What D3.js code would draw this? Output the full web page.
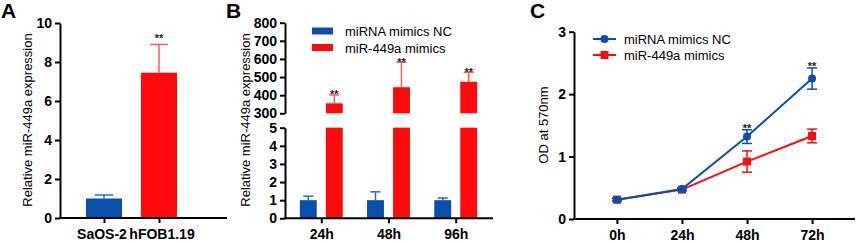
<!DOCTYPE html>
<html>
<head>
<meta charset="utf-8">
<script src="https://cdn.jsdelivr.net/npm/d3@7"></script>
<style>
  body { margin: 0; background: #fff; }
  text { font-family: "Liberation Sans", Arial, sans-serif; }
</style>
</head>
<body>
<div id="chart"></div>
<script>
// data
var series = ['miRNA mimics NC', 'miR-449a mimics'];
var colors = ['#0b4fae', '#ff0a0a'];
var errColors = ['#2f68c4', '#ff5a5a'];

// panel A
var cellsA = ['SaOS-2', 'hFOB1.19'];
var valuesA = [1.0, 7.45];
var errA = [0.18, 1.45];

// panel B
var timesB = ['24h', '48h', '96h'];
var ncB = [1.0, 1.0, 1.0];
var ncErrB = [0.22, 0.46, 0.12];
var mimB = [355, 444, 474];
var mimErrB = [46, 138, 52];

// panel C
var timesC = ['0h', '24h', '48h', '72h'];
var ncC = [0.31, 0.48, 1.32, 2.25];
var ncErrC = [0.02, 0.02, 0.11, 0.17];
var mimC = [0.31, 0.47, 0.92, 1.33];
var mimErrC = [0.02, 0.02, 0.17, 0.11];

var svg = d3.select('#chart')
  .append('svg')
    .attr('width', 858)
    .attr('height', 243);

function styleAxis(g) {
  g.selectAll('path, line').attr('stroke', '#000').attr('stroke-width', 2);
  g.selectAll('text')
    .attr('font-size', '14px')
    .attr('font-weight', 'bold')
    .attr('fill', '#000');
}

function panelLetter(x, t) {
  svg.append('text')
    .attr('x', x).attr('y', 18)
    .attr('font-size', '21px')
    .attr('font-weight', 'bold')
    .text(t);
}

function yTitle(x, y, t) {
  svg.append('text')
    .attr('transform', 'translate(' + x + ',' + y + ')rotate(-90)')
    .attr('text-anchor', 'middle')
    .attr('font-size', '13px')
    .text(t);
}

// asterisks sit just above the top of the error bar
function stars(x, yTop, gap) {
  svg.append('text')
    .attr('x', x).attr('y', yTop + 3.5 - gap)
    .attr('text-anchor', 'middle')
    .attr('font-size', '11px')
    .attr('font-weight', 'bold')
    .attr('fill', '#222')
    .text('**');
}

function errBar(x, yTop, yBot, half, color) {
  svg.append('line')
    .attr('x1', x).attr('x2', x).attr('y1', yTop).attr('y2', yBot)
    .attr('stroke', color).attr('stroke-width', 1.5);
  svg.append('line')
    .attr('x1', x - half).attr('x2', x + half).attr('y1', yTop).attr('y2', yTop)
    .attr('stroke', color).attr('stroke-width', 1.5);
}

// ---------- Panel A ----------
var xA = d3.scalePoint().domain(cellsA).range([104, 159]);
var yA = d3.scaleLinear().domain([0, 10]).range([218, 23]);
var bwA = 36;

cellsA.forEach(function(c, i) {
  errBar(xA(c), yA(valuesA[i] + errA[i]), yA(valuesA[i]), 9, errColors[i]);
});

svg.selectAll('.barA')
  .data(cellsA)
  .enter()
  .append('rect')
    .attr('x', function(d) { return xA(d) - bwA / 2; })
    .attr('y', function(d, i) { return yA(valuesA[i]); })
    .attr('width', bwA)
    .attr('height', function(d, i) { return yA(0) - yA(valuesA[i]); })
    .attr('fill', function(d, i) { return colors[i]; });

svg.append('g')
  .attr('transform', 'translate(60,0)')
  .call(d3.axisLeft(yA).ticks(5).tickSize(5).tickPadding(3).tickSizeOuter(0))
  .call(styleAxis);

var gxA = svg.append('g')
  .attr('transform', 'translate(0,' + yA(0) + ')')
  .call(d3.axisBottom(xA).tickSize(5).tickPadding(6).tickSizeOuter(0))
  .call(styleAxis);
gxA.select('.domain').attr('d', 'M59,0H227');
gxA.selectAll('.tick text').attr('dx', function(d, i) { return i === 0 ? -2.5 : 2.5; });

stars(xA(cellsA[1]), yA(valuesA[1] + errA[1]), 6);
yTitle(32, 120, 'Relative miR-449a expression');
panelLetter(1, 'A');

// ---------- Panel B ----------
var xB = d3.scalePoint().domain(timesB).range([285, 492]).padding(0.54);
var subB = d3.scaleBand().domain(series).range([-26, 26])
  .paddingInner(0.35).paddingOuter(0.175);
var yLo = d3.scaleLinear().domain([0, 5]).range([218.3, 127.7]);
var yHi = d3.scaleLinear().domain([300, 800]).range([113.3, 22.7]);
var segments = [yLo, yHi];

var groupsB = [ncB, mimB];
var errsB = [ncErrB, mimErrB];

series.forEach(function(s, si) {
  timesB.forEach(function(t, ti) {
    var v = groupsB[si][ti], e = errsB[si][ti];
    var seg = v > 5 ? yHi : yLo;
    errBar(xB(t) + subB(s) + subB.bandwidth() / 2, seg(v + e), seg(v), 5, errColors[si]);
  });
});

series.forEach(function(s, si) {
  segments.forEach(function(seg) {
    var d0 = seg.domain();
    svg.selectAll(null)
      .data(timesB.filter(function(t, ti) { return groupsB[si][ti] > d0[0]; }))
      .enter()
      .append('rect')
        .attr('x', function(t) { return xB(t) + subB(s); })
        .attr('y', function(t) {
          return seg(Math.min(groupsB[si][timesB.indexOf(t)], d0[1]));
        })
        .attr('width', subB.bandwidth())
        .attr('height', function(t) {
          return seg(d0[0]) - seg(Math.min(groupsB[si][timesB.indexOf(t)], d0[1]));
        })
        .attr('fill', colors[si]);
  });
});

svg.append('g')
  .attr('transform', 'translate(285,0)')
  .call(d3.axisLeft(yLo).ticks(5).tickSize(5).tickPadding(3).tickSizeOuter(0))
  .call(styleAxis);
svg.append('g')
  .attr('transform', 'translate(285,0)')
  .call(d3.axisLeft(yHi).ticks(5).tickSize(5).tickPadding(3).tickSizeOuter(0))
  .call(styleAxis);

var gxB = svg.append('g')
  .attr('transform', 'translate(0,' + yLo(0) + ')')
  .call(d3.axisBottom(xB).tickSize(5).tickPadding(6).tickSizeOuter(0))
  .call(styleAxis);
gxB.select('.domain').attr('d', 'M284,0H493');

timesB.forEach(function(t, ti) {
  stars(xB(t) + subB(series[1]) + subB.bandwidth() / 2, yHi(mimB[ti] + mimErrB[ti]), 0);
});

// legend B
series.forEach(function(s, i) {
  svg.append('rect')
    .attr('x', 312).attr('y', 27.5 + i * 16.5)
    .attr('width', 21).attr('height', 7)
    .attr('fill', colors[i]);
  svg.append('text')
    .attr('x', 345).attr('y', 36 + i * 16.5)
    .attr('font-size', '13px')
    .text(s);
});

yTitle(250, 120, 'Relative miR-449a expression');
panelLetter(226, 'B');

// ---------- Panel C ----------
var xC = d3.scalePoint().domain(timesC).range([574, 855]).padding(0.66);
var yC = d3.scaleLinear().domain([0, 3]).range([219, 31.7]);
var groupsC = [ncC, mimC];
var errsC = [ncErrC, mimErrC];

var line = d3.line()
  .x(function(d, i) { return xC(timesC[i]); })
  .y(function(d) { return yC(d); });

svg.append('g')
  .attr('transform', 'translate(574,0)')
  .call(d3.axisLeft(yC).ticks(3).tickSize(5).tickPadding(3).tickSizeOuter(0))
  .call(styleAxis);
var gxC = svg.append('g')
  .attr('transform', 'translate(0,' + yC(0) + ')')
  .call(d3.axisBottom(xC).tickSize(5).tickPadding(6).tickSizeOuter(0))
  .call(styleAxis);
gxC.select('.domain').attr('d', 'M573,0H855');

// red first, blue on top
[1, 0].forEach(function(si) {
  var vals = groupsC[si];
  svg.append('path')
    .datum(vals)
    .attr('d', line)
    .attr('fill', 'none')
    .attr('stroke', colors[si])
    .attr('stroke-width', 2);
  vals.forEach(function(v, ti) {
    var x = xC(timesC[ti]), e = errsC[si][ti];
    var c = colors[si];
    svg.append('line')
      .attr('x1', x).attr('x2', x)
      .attr('y1', yC(v + e)).attr('y2', yC(v - e))
      .attr('stroke', c).attr('stroke-width', 1.5);
    [v + e, v - e].forEach(function(w) {
      svg.append('line')
        .attr('x1', x - 5).attr('x2', x + 5)
        .attr('y1', yC(w)).attr('y2', yC(w))
        .attr('stroke', c).attr('stroke-width', 1.5);
    });
  });
  svg.selectAll(null)
    .data(vals)
    .enter()
    .append(si === 0 ? 'circle' : 'rect')
    .each(function(d, i) {
      var el = d3.select(this);
      var x = xC(timesC[i]), y = yC(d);
      if (si === 0) {
        el.attr('cx', x).attr('cy', y).attr('r', 4);
      } else {
        el.attr('x', x - 4).attr('y', y - 4).attr('width', 8).attr('height', 8);
      }
      el.attr('fill', colors[si]);
    });
});

[2, 3].forEach(function(ti) {
  stars(xC(timesC[ti]), yC(ncC[ti] + ncErrC[ti]), 1);
});

// legend C
series.forEach(function(s, i) {
  var y = 39 + i * 16;
  svg.append('line')
    .attr('x1', 593).attr('x2', 616).attr('y1', y).attr('y2', y)
    .attr('stroke', colors[i]).attr('stroke-width', 2);
  if (i === 0) {
    svg.append('circle').attr('cx', 604.5).attr('cy', y).attr('r', 4).attr('fill', colors[i]);
  } else {
    svg.append('rect').attr('x', 600.5).attr('y', y - 4).attr('width', 8).attr('height', 8).attr('fill', colors[i]);
  }
  svg.append('text')
    .attr('x', 624).attr('y', y + 4.5)
    .attr('font-size', '13px')
    .text(s);
});

yTitle(548, 125, 'OD at 570nm');
panelLetter(530, 'C');
</script>
</body>
</html>
